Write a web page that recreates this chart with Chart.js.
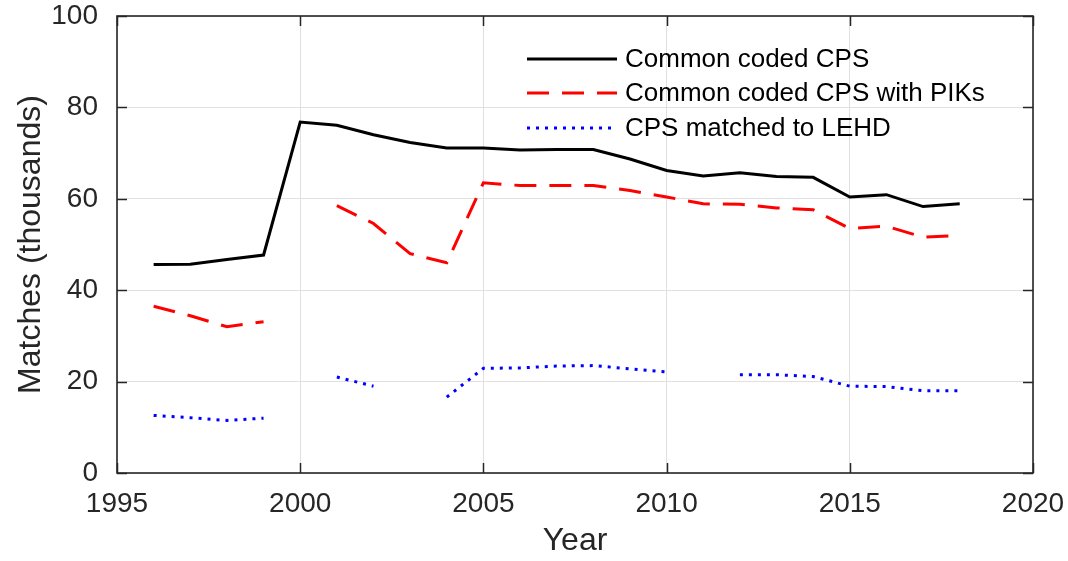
<!DOCTYPE html>
<html>
<head>
<meta charset="utf-8">
<script src="https://cdn.jsdelivr.net/npm/chart.js@4/dist/chart.umd.min.js"></script>
<style>
  html, body { margin: 0; padding: 0; background: #ffffff; }
  #wrap { width: 1068px; height: 561px; }
</style>
</head>
<body>
<div id="wrap"><canvas id="c" width="1068" height="561"></canvas></div>
<script>
// ---- Data ----
const years = [1996, 1997, 1998, 1999, 2000, 2001, 2002, 2003, 2004, 2005, 2006, 2007,
               2008, 2009, 2010, 2011, 2012, 2013, 2014, 2015, 2016, 2017, 2018];
const commonCoded = [45.6, 45.7, 46.7, 47.7, 76.8, 76.1, 74.0, 72.3, 71.1, 71.1, 70.7, 70.8,
                     70.8, 68.7, 66.2, 65.0, 65.7, 64.9, 64.7, 60.4, 60.9, 58.3, 58.9];
const withPIKs = [36.5, 34.4, 32.0, 33.1, null, 58.5, 54.6, 48.0, 46.0, 63.5, 62.9, 62.9,
                  62.9, 61.8, 60.4, 58.9, 58.8, 58.0, 57.6, 53.5, 54.0, 51.6, 52.0];
const matchedLEHD = [12.6, 12.1, 11.5, 12.0, null, 21.0, 19.0, null, 16.6, 22.9, 23.0, 23.4,
                     23.5, 22.8, 22.1, null, 21.5, 21.5, 21.1, 19.0, 18.9, 18.0, 18.0];
const seriesLabels = ['Common coded CPS', 'Common coded CPS with PIKs', 'CPS matched to LEHD'];
const xTicks = [1995, 2000, 2005, 2010, 2015, 2020];
const yTicks = [0, 20, 40, 60, 80, 100];
const xTitle = 'Year';
const yTitle = 'Matches (thousands)';

const FONT = "'Liberation Sans', Arial, Helvetica, sans-serif";
const AXIS_COLOR = '#262626';

function toXY(vals) { return years.map((y, i) => ({ x: y, y: vals[i] })); }

// Box, inward ticks on all four sides, and in-plot legend
const boxPlugin = {
  id: 'matlabBox',
  afterDatasetsDraw(chart) {
    const { ctx, chartArea: a, scales } = chart;
    ctx.save();
    ctx.strokeStyle = AXIS_COLOR;
    ctx.lineWidth = 1.5;
    const tl = 10;
    ctx.beginPath();
    xTicks.forEach(v => {
      const px = Math.round(scales.x.getPixelForValue(v)) + 0.5;
      ctx.moveTo(px, a.bottom); ctx.lineTo(px, a.bottom - tl);
      ctx.moveTo(px, a.top); ctx.lineTo(px, a.top + tl);
    });
    yTicks.forEach(v => {
      const py = Math.round(scales.y.getPixelForValue(v)) + 0.5;
      ctx.moveTo(a.left, py); ctx.lineTo(a.left + tl, py);
      ctx.moveTo(a.right, py); ctx.lineTo(a.right - tl, py);
    });
    ctx.stroke();
    ctx.lineWidth = 1.6;
    ctx.strokeRect(a.left, a.top, a.right - a.left, a.bottom - a.top);

    // legend
    const x0 = 527, x1 = 617, tx = 625;
    const rows = [59, 93, 128];
    chart.data.datasets.forEach((ds, i) => {
      ctx.beginPath();
      ctx.strokeStyle = ds.borderColor;
      ctx.lineWidth = ds.borderWidth;
      ctx.setLineDash(ds.borderDash || []);
      ctx.moveTo(x0, rows[i]); ctx.lineTo(x1, rows[i]);
      ctx.stroke();
      ctx.setLineDash([]);
      ctx.fillStyle = '#000000';
      ctx.font = '26px ' + FONT;
      ctx.textAlign = 'left';
      ctx.textBaseline = 'middle';
      ctx.fillText(ds.label, tx, rows[i] + 1);
    });
    ctx.restore();
  }
};

new Chart(document.getElementById('c'), {
  type: 'line',
  data: {
    datasets: [
      { label: seriesLabels[0], data: toXY(commonCoded), borderColor: '#000000',
        borderWidth: 3, pointRadius: 0, tension: 0, spanGaps: false, fill: false },
      { label: seriesLabels[1], data: toXY(withPIKs), borderColor: '#ff0000',
        borderWidth: 3, borderDash: [22, 13], pointRadius: 0, tension: 0, spanGaps: false, fill: false },
      { label: seriesLabels[2], data: toXY(matchedLEHD), borderColor: '#0000ff',
        borderWidth: 3, borderDash: [3, 6], pointRadius: 0, tension: 0, spanGaps: false, fill: false }
    ]
  },
  options: {
    responsive: false,
    animation: false,
    devicePixelRatio: 1,
    layout: { padding: { left: 0, top: 16, right: 35, bottom: 0 } },
    plugins: { legend: { display: false }, tooltip: { enabled: false } },
    scales: {
      x: {
        type: 'linear', min: 1995, max: 2020,
        afterBuildTicks: s => { s.ticks = xTicks.map(v => ({ value: v })); },
        afterFit: s => { s.height = 88; s.paddingLeft = 0; s.paddingRight = 0; },
        grid: { color: '#e0e0e0', lineWidth: 1, drawTicks: false },
        border: { display: false },
        ticks: { color: AXIS_COLOR, font: { family: FONT, size: 28 }, padding: 14,
                 maxRotation: 0, callback: v => String(v) },
        title: { display: true, text: xTitle, color: AXIS_COLOR,
                 font: { family: FONT, size: 32 }, padding: { top: 0, bottom: 1 } }
      },
      y: {
        type: 'linear', min: 0, max: 100,
        afterBuildTicks: s => { s.ticks = yTicks.map(v => ({ value: v })); },
        afterFit: s => { s.width = 117; s.paddingTop = 0; s.paddingBottom = 0; },
        grid: { color: '#e0e0e0', lineWidth: 1, drawTicks: false },
        border: { display: false },
        ticks: { color: AXIS_COLOR, font: { family: FONT, size: 28 }, padding: 19,
                 callback: v => String(v) },
        title: { display: true, text: yTitle, color: AXIS_COLOR,
                 font: { family: FONT, size: 32 }, padding: { top: 12, bottom: 0 } }
      }
    }
  },
  plugins: [boxPlugin]
});
</script>
</body>
</html>
